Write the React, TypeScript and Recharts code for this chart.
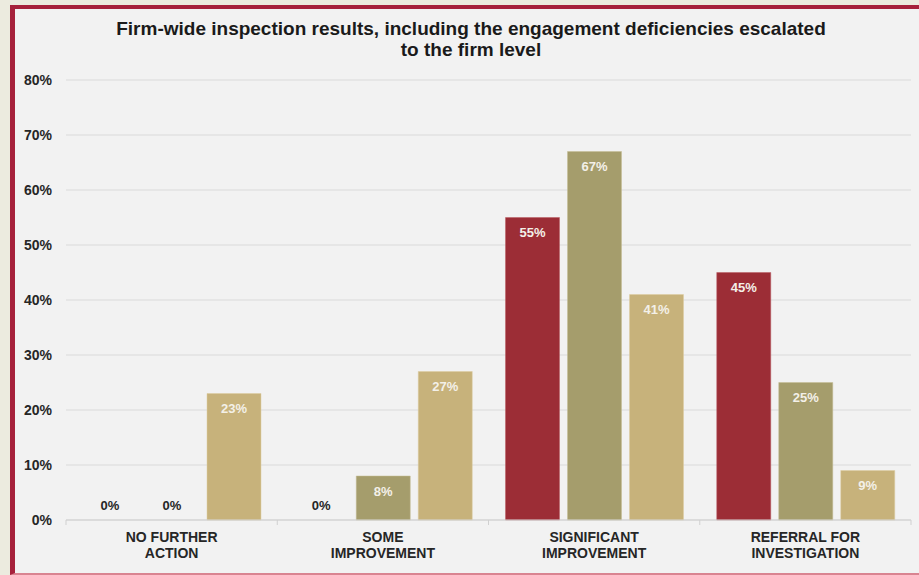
import React from 'react';
import { BarChart, Bar, XAxis, YAxis, CartesianGrid, LabelList, Cell } from 'recharts';

const categories = ['NO FURTHER ACTION', 'SOME IMPROVEMENT', 'SIGNIFICANT IMPROVEMENT', 'REFERRAL FOR INVESTIGATION'];
const categoryLines = [
  ['NO FURTHER', 'ACTION'],
  ['SOME', 'IMPROVEMENT'],
  ['SIGNIFICANT', 'IMPROVEMENT'],
  ['REFERRAL FOR', 'INVESTIGATION'],
];
const seriesRed = [0, 0, 55, 45];
const seriesOlive = [0, 8, 67, 25];
const seriesTan = [23, 27, 41, 9];
const yTicks = [0, 10, 20, 30, 40, 50, 60, 70, 80];
const titleLines = [
  'Firm-wide inspection results, including the engagement deficiencies escalated',
  'to the firm level',
];

const data = categories.map((c, i) => ({
  name: c,
  lines: categoryLines[i],
  red: seriesRed[i],
  olive: seriesOlive[i],
  tan: seriesTan[i],
}));

const FONT = 'Arial, "Liberation Sans", Helvetica, sans-serif';
const TEXT = '#262626';

const XTick = (props: any) => {
  const { x, y, payload, index, visibleTicksCount } = props;
  const off = payload.offset || 0;
  const lines = data[index] ? data[index].lines : [String(payload.value)];
  const isLast = index === (visibleTicksCount ?? data.length) - 1;
  return (
    <g>
      <line x1={x - off} x2={x - off} y1={y} y2={y + 5} stroke="#d0d0d0" />
      {isLast && <line x1={x + off} x2={x + off} y1={y} y2={y + 5} stroke="#d0d0d0" />}
      <text x={x} y={y} textAnchor="middle" fontFamily={FONT} fontWeight="bold" fontSize={14} fill={TEXT}>
        {lines.map((l: string, i: number) => (
          <tspan key={i} x={x} dy={i === 0 ? 21.5 : 16.5}>{l}</tspan>
        ))}
      </text>
    </g>
  );
};

const ValueLabel = (props: any) => {
  const { x, y, width, height, value } = props;
  const cx = Number(x) + Number(width) / 2;
  if (!value) {
    const base = Number(y) + Number(height);
    return (
      <text x={cx} y={base - 10} textAnchor="middle" fontFamily={FONT} fontWeight="bold" fontSize={13} fill={TEXT}>
        {`${value}%`}
      </text>
    );
  }
  return (
    <text x={cx} y={Number(y) + 19.5} textAnchor="middle" fontFamily={FONT} fontWeight="bold" fontSize={13} fill="#f3f0e8">
      {`${value}%`}
    </text>
  );
};

const series = [
  { key: 'red', fill: '#9c2d36', stroke: '#b85a60', values: seriesRed },
  { key: 'olive', fill: '#a59d6c', stroke: '#c4bd93', values: seriesOlive },
  { key: 'tan', fill: '#c7b27b', stroke: '#dccca0', values: seriesTan },
];

export default function App() {
  return (
    <div style={{ position: 'fixed', left: 0, top: 0, width: 919, height: 575, background: '#ecebdf', overflow: 'hidden' }}>
      <div
        style={{
          position: 'absolute',
          left: 10,
          top: 5,
          right: 0,
          bottom: 0,
          background: '#f2f2f2',
          borderLeft: '5px solid #a6213b',
          borderTop: '4px solid #a6213b',
          borderBottom: '2px solid #d98491',
          boxSizing: 'border-box',
        }}
      />
      <svg width={919} height={70} style={{ position: 'absolute', left: 0, top: 0 }}>
        {titleLines.map((t, i) => (
          <text key={i} x={471} y={34.5 + i * 21} textAnchor="middle" fontFamily={FONT} fontWeight="bold" fontSize={19} fill="#1a1a1a">
            {t}
          </text>
        ))}
      </svg>
      <div style={{ position: 'absolute', left: 0, top: 0 }}>
        <BarChart width={919} height={575} data={data} margin={{ top: 80, right: 8, bottom: 25, left: 0 }} barCategoryGap={17} barGap={8}>
          <CartesianGrid vertical={false} stroke="#dadada" strokeWidth={1} />
          <XAxis dataKey="name" height={30} axisLine={{ stroke: '#d0d0d0' }} tickLine={false} tickSize={0} tickMargin={0} tick={<XTick />} interval={0} />
          <YAxis
            width={66}
            domain={[0, 80]}
            ticks={yTicks}
            axisLine={false}
            tickLine={false}
            tickSize={0}
            tickMargin={14}
            tickFormatter={(v: number) => `${v}%`}
            tick={{ fontFamily: FONT, fontWeight: 'bold', fontSize: 14, fill: TEXT }}
          />
          {series.map((s) => (
            <Bar key={s.key} dataKey={s.key} fill={s.fill} stroke={s.stroke} strokeWidth={0.5} minPointSize={1} isAnimationActive={false}>
              {s.values.map((v, i) => (
                <Cell key={i} fill={v === 0 ? 'transparent' : s.fill} stroke={v === 0 ? 'none' : s.stroke} />
              ))}
              <LabelList dataKey={s.key} content={<ValueLabel />} />
            </Bar>
          ))}
        </BarChart>
      </div>
    </div>
  );
}
